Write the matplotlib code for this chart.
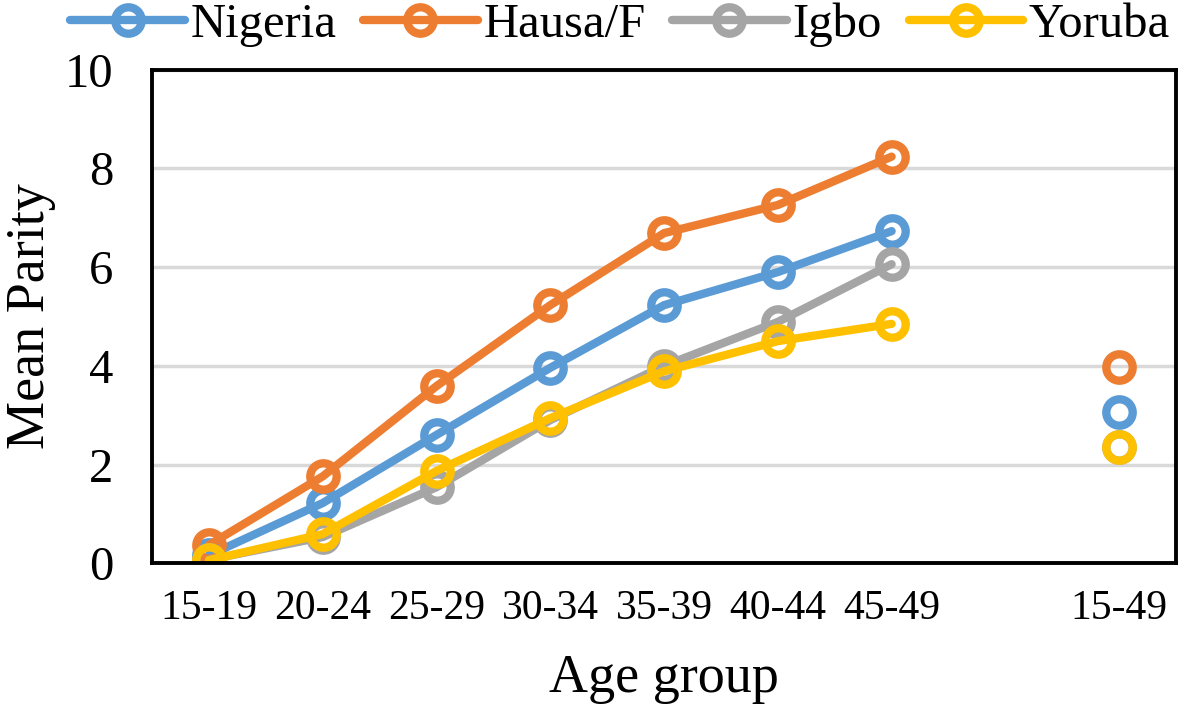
import matplotlib
matplotlib.use("Agg")
import matplotlib.pyplot as plt
import numpy as np

plt.rcParams['font.family'] = ['Liberation Serif', 'DejaVu Serif']

age_groups = ["15-19", "20-24", "25-29", "30-34", "35-39", "40-44", "45-49"]
overall_label = "15-49"

nigeria = [0.16, 1.22, 2.60, 3.96, 5.23, 5.90, 6.73]
hausa   = [0.37, 1.76, 3.59, 5.23, 6.69, 7.26, 8.24]
igbo    = [0.07, 0.53, 1.54, 2.90, 4.00, 4.89, 6.06]
yoruba  = [0.06, 0.59, 1.87, 2.94, 3.89, 4.50, 4.85]

overall = {"Nigeria": 3.06, "Hausa/F": 3.98, "Igbo": 2.35, "Yoruba": 2.35}

series = [("Nigeria", nigeria, "#5B9BD5"),
          ("Hausa/F", hausa, "#ED7D31"),
          ("Igbo", igbo, "#A5A5A5"),
          ("Yoruba", yoruba, "#FFC000")]

fig = plt.figure(figsize=(11.79, 7.12), dpi=100)
ax = fig.add_axes([0.129, 0.209, 0.8685, 0.693])

x = np.arange(len(age_groups))
x_overall = len(age_groups) + 1

for name, vals, col in series:
    ax.plot(x, vals, color=col, lw=6, marker='o', ms=19, mew=6,
            mfc='none', mec=col, label=name, solid_capstyle='round')
    ax.plot([x_overall], [overall[name]], color=col, lw=0, marker='o', ms=19,
            mew=6, mfc='none', mec=col)

ax.set_xlim(-0.5, x_overall + 0.5)
ax.set_ylim(0, 10)
ax.set_yticks(range(0, 11, 2))
ax.set_xticks(list(x) + [x_overall])
ax.set_xticklabels(age_groups + [overall_label])
ax.tick_params(axis='x', length=0, pad=19, labelsize=30)
ax.tick_params(axis='y', length=0, pad=28, labelsize=35)
ax.grid(axis='y', color='#D9D9D9', lw=2.5)
ax.set_axisbelow(True)
for s in ax.spines.values():
    s.set_linewidth(2.8)
    s.set_color('black')

ax.set_xlabel("Age group", fontsize=39, labelpad=18)
ax.set_ylabel("Mean Parity", fontsize=39, labelpad=6)

ax.legend(loc='upper center', bbox_to_anchor=(0.5 + 0.026, 0.996), bbox_transform=fig.transFigure,
          ncol=4, frameon=False, fontsize=35, handlelength=2.35, handletextpad=0.12,
          columnspacing=0.55, borderaxespad=0, borderpad=0)

fig.savefig("out.png", dpi=100)
